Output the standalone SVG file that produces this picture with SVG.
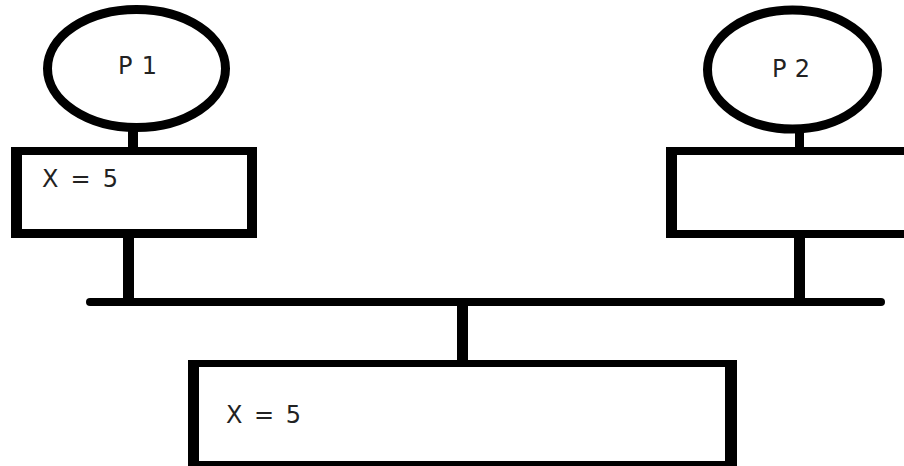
<svg xmlns="http://www.w3.org/2000/svg" width="904" height="466" viewBox="0 0 904 466">
<style>
.circ{fill:#fff;stroke:#000;stroke-width:9}
.box{fill:#000;fill-rule:evenodd}
.wire{stroke:#000;fill:none}
.lbl{font-family:"DejaVu Sans","Liberation Sans",sans-serif;font-size:24px;fill:#222}
</style>
<rect x="0" y="0" width="904" height="466" fill="#fff"/>
<g id="connectors">
<line class="wire" x1="133" y1="128" x2="133" y2="150" stroke-width="10"/>
<line class="wire" x1="128.5" y1="234" x2="128.5" y2="302" stroke-width="11"/>
<line class="wire" x1="799.5" y1="129" x2="799.5" y2="150" stroke-width="9"/>
<line class="wire" x1="799.5" y1="234" x2="799.5" y2="302" stroke-width="11"/>
<line class="wire" x1="462.5" y1="302" x2="462.5" y2="363" stroke-width="11"/>
<line class="wire" x1="90" y1="302" x2="881" y2="302" stroke-width="8" stroke-linecap="round"/>
</g>
<g id="p1">
<ellipse class="circ" cx="136.5" cy="68.5" rx="89" ry="59"/>
<text class="lbl" x="118" y="74" textLength="39" lengthAdjust="spacing">P1</text>
</g>
<g id="p2">
<ellipse class="circ" cx="792.5" cy="69.5" rx="85" ry="59.5"/>
<text class="lbl" x="772" y="77" textLength="38" lengthAdjust="spacing">P2</text>
</g>
<g id="cache1">
<path class="box" d="M11 147H257V238H11Z M22 155V229H247V155Z"/>
<text class="lbl" x="42" y="187" textLength="76" lengthAdjust="spacing">X = 5</text>
</g>
<g id="cache2">
<path class="box" d="M666 147H910V238H666Z M677 155V230H910V155Z"/>
</g>
<g id="memory">
<path class="box" d="M188 360H737V470H188Z M199 367V461H725V367Z"/>
<text class="lbl" x="226" y="423" textLength="75" lengthAdjust="spacing">X = 5</text>
</g>
</svg>
